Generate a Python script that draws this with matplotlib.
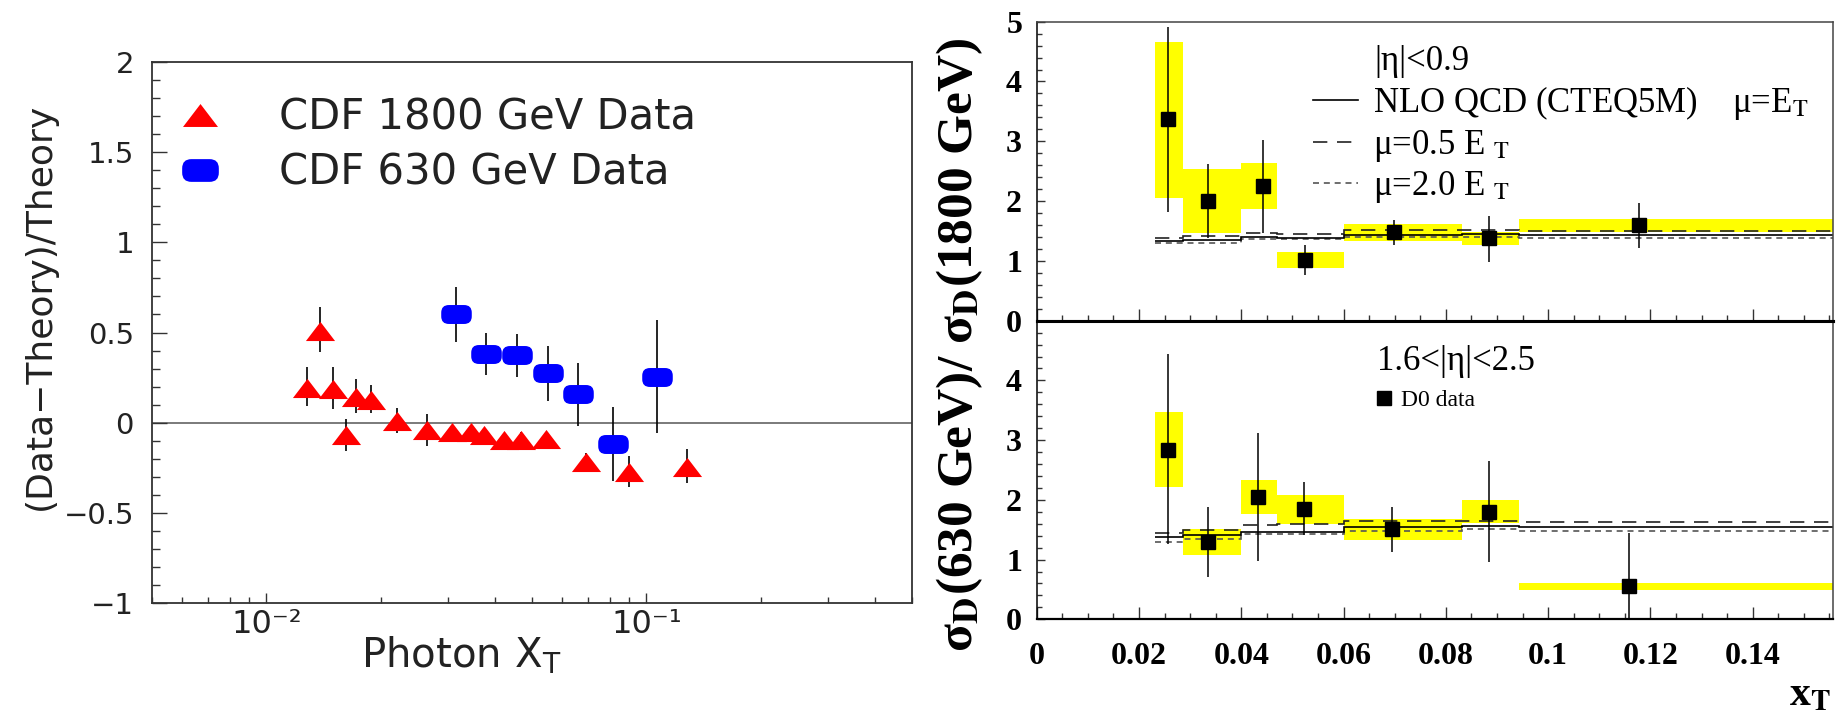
import numpy as np
import matplotlib
matplotlib.use("Agg")
import matplotlib.pyplot as plt
import matplotlib.patches as mpatches
from matplotlib.path import Path
from matplotlib.lines import Line2D
from matplotlib.ticker import MultipleLocator, LogLocator, NullFormatter, FuncFormatter

# --- left panel: CDF (Data-Theory)/Theory ---
x_1800 = [0.01276, 0.01384, 0.01494, 0.01617, 0.01725, 0.01882, 0.02203, 0.02653, 0.03087,
          0.03448, 0.03738, 0.04220, 0.04670, 0.05433, 0.0695, 0.0898, 0.1276]
y_1800 = [0.19, 0.51, 0.185, -0.066, 0.141, 0.128, 0.011, -0.042, -0.052,
          -0.052, -0.068, -0.096, -0.094, -0.089, -0.216, -0.273, -0.244]
up_1800 = [0.12, 0.13, 0.126, 0.085, 0.10, 0.08, 0.07, 0.09, 0.04,
           0.04, 0.04, 0.04, 0.04, 0.04, 0.05, 0.088, 0.098]
dn_1800 = [0.10, 0.12, 0.11, 0.089, 0.09, 0.076, 0.066, 0.087, 0.04,
           0.04, 0.04, 0.04, 0.04, 0.04, 0.05, 0.085, 0.092]

x_630 = [0.03149, 0.03793, 0.04557, 0.05522, 0.06607, 0.08166, 0.1069]
y_630 = [0.60, 0.383, 0.375, 0.276, 0.158, -0.12, 0.255]
up_630 = [0.15, 0.116, 0.117, 0.151, 0.175, 0.205, 0.315]
dn_630 = [0.15, 0.117, 0.12, 0.154, 0.176, 0.202, 0.314]

# --- right panels: D0 ratio 630/1800 ---
bin_edges = [0.0231, 0.0287, 0.0400, 0.0469, 0.0600, 0.0831, 0.0944, 0.16]

x_c = [0.02574, 0.03343, 0.0443, 0.0524, 0.06985, 0.08843, 0.11775]
y_c = [3.37, 2.0, 2.25, 1.02, 1.478, 1.378, 1.6]
hi_c = [4.91, 2.62, 3.02, 1.266, 1.684, 1.75, 1.973]
lo_c = [1.82, 1.378, 1.47, 0.764, 1.266, 0.987, 1.21]
sys_lo_c = [2.057, 1.472, 1.86, 0.887, 1.338, 1.266, 1.488]
sys_hi_c = [4.655, 2.537, 2.63, 1.144, 1.617, 1.478, 1.70]
nlo_c = [1.338, 1.344, 1.40, 1.39, 1.44, 1.45, 1.433]
nlo_half_c = [1.387, 1.41, 1.47, 1.45, 1.515, 1.515, 1.50]
nlo_two_c = [1.293, 1.30, 1.36, 1.36, 1.40, 1.40, 1.388]

x_f = [0.02574, 0.03356, 0.0432, 0.05232, 0.0694, 0.08836, 0.11573]
y_f = [2.838, 1.301, 2.045, 1.849, 1.509, 1.804, 0.558]
hi_f = [4.45, 1.888, 3.118, 2.296, 1.877, 2.654, 1.44]
lo_f = [1.257, 0.714, 0.977, 1.413, 1.133, 0.955, 0.0]
sys_lo_f = [2.207, 1.078, 1.765, 1.597, 1.329, 1.609, 0.491]
sys_hi_f = [3.47, 1.509, 2.335, 2.078, 1.676, 2.0, 0.603]
nlo_f = [1.385, 1.413, 1.47, 1.47, 1.54, 1.569, 1.553]
nlo_half_f = [1.441, 1.497, 1.58, 1.60, 1.64, 1.653, 1.626]
nlo_two_f = [1.29, 1.34, 1.42, 1.43, 1.475, 1.514, 1.48]

xticks_r = [0, 0.02, 0.04, 0.06, 0.08, 0.1, 0.12, 0.14]
yticks_top = [0, 1, 2, 3, 4, 5]
yticks_bot = [0, 1, 2, 3, 4]

W, H = 1838, 718
SERIF = "Liberation Serif"
INK = "#222222"

# marker shapes
tri = Path([(-1, -0.655), (1, -0.655), (0, 0.655), (-1, -0.655)],
           [Path.MOVETO, Path.LINETO, Path.LINETO, Path.CLOSEPOLY])
pill = mpatches.BoxStyle("Round", pad=0, rounding_size=0.5)(-1, -0.62, 2, 1.24, 1.0)

fig = plt.figure(figsize=(W / 100, H / 100), dpi=100)

# ================= left panel =================
ax1 = fig.add_axes([152 / W, 1 - 603 / H, 760 / W, 541 / H])
ax1.set_xscale("log")
ax1.axhline(0, color="#707070", lw=1.3, zorder=1)
ax1.errorbar(x_1800, y_1800, yerr=[dn_1800, up_1800], fmt="none", ecolor="black",
             elinewidth=1.2, zorder=2)
ax1.errorbar(x_630, y_630, yerr=[dn_630, up_630], fmt="none", ecolor="black",
             elinewidth=1.2, zorder=2)
ax1.plot(x_1800, y_1800, ls="none", marker=tri, ms=21, color="#ff0000", mec="none",
         label="CDF 1800 GeV Data", zorder=3)
ax1.plot(x_630, y_630, ls="none", marker=pill, ms=22, color="#0000ff", mec="none",
         label="CDF 630 GeV Data", zorder=3)
ax1.set_xlim(0.005, 0.5)
ax1.set_ylim(-1, 2)

ax1.yaxis.set_major_locator(MultipleLocator(0.5))
ax1.yaxis.set_minor_locator(MultipleLocator(0.1))
ax1.yaxis.set_major_formatter(FuncFormatter(lambda v, p: ("%g" % v).replace("-", "\u2212")))
ax1.set_xticks([0.01, 0.1])
ax1.set_xticklabels(["10\u207b\u00b2", "10\u207b\u00b9"])
ax1.xaxis.set_minor_locator(LogLocator(base=10, subs=np.arange(2, 10)))
ax1.xaxis.set_minor_formatter(NullFormatter())
ax1.tick_params(which="both", direction="in", top=False, right=False, color="#333333")
ax1.tick_params(axis="y", which="major", length=10.8, width=1, pad=13, labelsize=21,
                labelcolor=INK)
ax1.tick_params(axis="y", which="minor", length=5.5, width=1)
ax1.tick_params(axis="x", which="major", length=7.2, width=1, pad=4, labelsize=23,
                labelcolor=INK)
ax1.tick_params(axis="x", which="minor", length=4.3, width=1)
for s in ax1.spines.values():
    s.set_color("#333333")
    s.set_linewidth(1.3)

leg1 = ax1.legend(loc="upper left", bbox_to_anchor=(0.036, 0.936), frameon=False,
                  fontsize=30, handlelength=1.0, handletextpad=1.4, borderpad=0,
                  borderaxespad=0, labelspacing=0.3, markerscale=1.2, numpoints=1)
for t in leg1.get_texts():
    t.set_color(INK)

fig.text(461 / W, 1 - 667 / H, "Photon X$_{\\mathrm{T}}$", ha="center", va="baseline",
         fontsize=29, color=INK)
fig.text(40 / W, 1 - 306 / H, "(Data\u2212Theory)/Theory", rotation=90, ha="center",
         va="center", fontsize=26, color=INK)

# ================= right panels =================
axT = fig.add_axes([1036.7 / W, 1 - 320.7 / H, 796.3 / W, 299 / H])
axB = fig.add_axes([1036.7 / W, 1 - 619.3 / H, 796.3 / W, 298.6 / H])

panels = [
    (axT, x_c, y_c, lo_c, hi_c, sys_lo_c, sys_hi_c, nlo_c, nlo_half_c, nlo_two_c, yticks_top),
    (axB, x_f, y_f, lo_f, hi_f, sys_lo_f, sys_hi_f, nlo_f, nlo_half_f, nlo_two_f, yticks_bot),
]
edges = np.array(bin_edges)
for ax, xs, ys, lo, hi, slo, shi, th, th_h, th_2, yt in panels:
    slo = np.array(slo)
    shi = np.array(shi)
    ax.bar(edges[:-1], shi - slo, width=np.diff(edges), bottom=slo, align="edge",
           color="#ffff00", lw=0, zorder=1)
    ax.stairs(th_h, edges, baseline=None, color="#222222", lw=1.2,
              ls=(0, (8.6, 5.8)), zorder=2)
    ax.stairs(th_2, edges, baseline=None, color="#555555", lw=1.2,
              ls=(0, (3.6, 2.9)), zorder=2)
    ax.stairs(th, edges, baseline=None, color="black", lw=1.2, zorder=2)
    ys_a = np.array(ys)
    ax.errorbar(xs, ys, yerr=[ys_a - np.array(lo), np.array(hi) - ys_a], fmt="none",
                ecolor="black", elinewidth=1.1, zorder=3)
    ax.plot(xs, ys, ls="none", marker="s", ms=9.4, color="black", zorder=4)
    ax.set_xlim(0, 0.1557)
    ax.set_ylim(0, 5)
    ax.set_xticks(xticks_r, labels=["%g" % v for v in xticks_r], fontsize=23,
                  fontweight="bold", fontfamily=SERIF)
    ax.set_yticks(yt, labels=["%g" % v for v in yt], fontsize=23, fontweight="bold",
                  fontfamily=SERIF)
    ax.xaxis.set_minor_locator(MultipleLocator(0.005))
    ax.yaxis.set_minor_locator(MultipleLocator(0.2))
    ax.tick_params(which="both", direction="in", top=False, right=False, color="#333333")
    ax.tick_params(axis="y", which="major", length=6, width=1, pad=10.5)
    ax.tick_params(axis="y", which="minor", length=3.6, width=1)
    ax.tick_params(axis="x", which="major", length=8.9, width=1, pad=16)
    ax.tick_params(axis="x", which="minor", length=4.5, width=1)
    for s in ax.spines.values():
        s.set_color("#444444")
        s.set_linewidth(1.1)
    ax.spines["left"].set_color("black")

axT.tick_params(axis="x", labelbottom=False)
axT.spines["bottom"].set_color("black")
axT.spines["bottom"].set_linewidth(2.2)
axB.spines["top"].set_color("black")
axB.spines["top"].set_linewidth(2.2)
axB.spines["bottom"].set_color("black")
axB.spines["bottom"].set_linewidth(1.6)

axT.text(0.4245, 0.8385, "|\u03b7|<0.9", transform=axT.transAxes, fontsize=25,
         family=SERIF, va="baseline")
th_handles = [
    Line2D([], [], color="black", lw=1.2),
    Line2D([], [], color="#222222", lw=1.2, ls=(0, (8.6, 5.8))),
    Line2D([], [], color="#555555", lw=1.2, ls=(0, (3.6, 2.9))),
]
th_labels = ["NLO QCD (CTEQ5M)    \u03bc=E$_{\\mathrm{T}}$",
             "\u03bc=0.5 E $_{\\mathrm{T}}$",
             "\u03bc=2.0 E $_{\\mathrm{T}}$"]
legT = axT.legend(th_handles, th_labels, loc="upper left", bbox_to_anchor=(0.3466, 0.79),
                  frameon=False, prop={"family": SERIF, "size": 25}, handlelength=1.3,
                  handletextpad=0.45, borderpad=0, borderaxespad=0, labelspacing=0.15)
for t in legT.get_texts():
    t.set_math_fontfamily("stix")

axB.text(0.4274, 0.835, "1.6<|\u03b7|<2.5", transform=axB.transAxes, fontsize=25,
         family=SERIF, va="baseline")
legB = axB.legend([Line2D([], [], ls="none", marker="s", ms=9.4, color="black")],
                  ["D0 data"], loc="upper left", bbox_to_anchor=(0.4274, 0.77),
                  frameon=False, prop={"family": SERIF, "size": 17}, handlelength=0.6,
                  handletextpad=0.4, borderpad=0, borderaxespad=0)

fig.text(960 / W, 1 - 345 / H,
         "\u03c3$_{\\mathbf{D}}$(630 GeV)/ \u03c3$_{\\mathbf{D}}$(1800 GeV)",
         rotation=90, ha="center", va="center", fontsize=37, fontweight="bold",
         family=SERIF, math_fontfamily="stix")
fig.text(1831 / W, 1 - 705 / H, "x$_{\\mathbf{T}}$", ha="right", va="baseline",
         fontsize=30, fontweight="bold", family=SERIF, math_fontfamily="stix")

fig.savefig("out.png", dpi=100)
